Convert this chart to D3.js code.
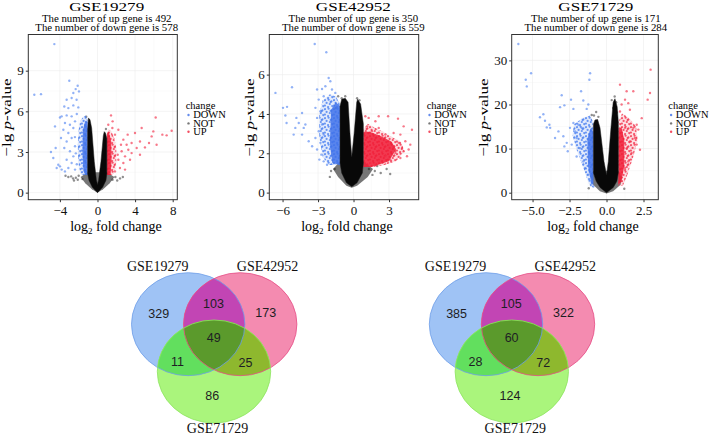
<!DOCTYPE html>
<html lang="en">
<head>
<meta charset="UTF-8">
<script src="https://d3js.org/d3.v7.min.js"></script>
<title>volcano + venn</title>
<style>
  body { margin: 0; background: #fff; }
</style>
</head>
<body>
<div id="chart"></div>
<script>
// ---- data ----
const datasets = ["GSE19279", "GSE42952", "GSE71729"];
const upCounts = [492, 350, 171];
const downCounts = [578, 559, 284];
const groups = ["DOWN", "NOT", "UP"];

const xTicks = [[-4, 0, 4, 8], [-6, -3, 0, 3], [-5, -2.5, 0, 2.5]];
const yTicks = [[0, 3, 6, 9], [0, 2, 4, 6], [0, 10, 20, 30]];
const xDomains = [[-7.36, 8.49], [-7.12, 5.51], [-6.41, 3.5]];
const yDomains = [[-0.52, 11.67], [-0.36, 8.04], [-1.59, 35.87]];

// dense areas of points (log2FC, -lg p)
const notArea = [
  [[-0.97, 5.5], [-1.05, 4.6], [-1.05, 1.4], [-0.9, 0.9], [-0.55, 0.4], [0, 0], [0.55, 0.4], [0.9, 0.9], [1.0, 1.4], [1.0, 4.0], [0.85, 4.4], [0.72, 4.5], [0.62, 4.2], [0.37, 2.3], [0.12, 0.95], [0, 0.6], [-0.12, 0.95], [-0.34, 2.3], [-0.62, 4.77], [-0.8, 5.4]],
  [[-1.0, 4.75], [-1.14, 4.4], [-1.14, 1.5], [-1.0, 1.0], [-0.6, 0.5], [-0.15, 0.3], [0.3, 0.5], [0.75, 1.0], [0.83, 1.5], [0.83, 3.5], [0.6, 4.5], [0.35, 4.75], [0.27, 4.6], [0.05, 3.0], [-0.15, 1.83], [-0.3, 3.0], [-0.46, 4.6], [-0.7, 4.8]],
  [[-0.78, 16.5], [-0.89, 15.5], [-0.89, 4.5], [-0.7, 2.6], [-0.44, 1.2], [0, 0], [0.46, 1.2], [0.7, 2.6], [0.8, 4.5], [0.8, 16], [0.72, 19.5], [0.57, 21.3], [0.45, 20.5], [0.3, 14.7], [0.12, 7.1], [0, 4.0], [-0.17, 7.1], [-0.44, 14.7], [-0.6, 16.6]]
];
// looser, greyer skirt of NOT points at low significance
const notFringe = [
  [[-1.05, 1.5], [-1.8, 1.15], [-1.3, 0.7], [-0.6, 0.25], [0, 0], [0.6, 0.25], [1.3, 0.7], [1.8, 1.15], [1.0, 1.5]],
  [[-1.14, 1.6], [-1.73, 1.2], [-1.3, 0.8], [-0.6, 0.35], [-0.15, 0.25], [0.3, 0.35], [1.2, 0.8], [1.65, 1.2], [0.83, 1.6]],
  [[-0.89, 5], [-1.05, 3.5], [-0.9, 1.8], [-0.45, 0.3], [0, -0.2], [0.45, 0.3], [0.95, 1.8], [1.05, 3.5], [0.8, 5]]
];
const downArea = [
  [[-1.05, 1.3], [-1.05, 5.3], [-1.2, 5.7], [-1.5, 5.6], [-1.85, 5.3], [-2.0, 4.6], [-2.1, 3.6], [-2.05, 2.4], [-1.9, 1.6], [-1.7, 1.3]],
  [[-1.14, 1.4], [-1.14, 4.5], [-1.5, 4.9], [-2.0, 5.0], [-2.6, 4.7], [-2.9, 4.0], [-2.9, 2.8], [-2.6, 1.8], [-2.1, 1.4]],
  [[-0.9, 1.3], [-0.9, 16], [-1.1, 17.5], [-1.6, 17], [-2.2, 15.5], [-2.3, 13], [-2.0, 9.5], [-1.6, 6], [-1.3, 3], [-1.1, 1.3]]
];
const upArea = [
  [[1.0, 1.3], [1.0, 4.3], [1.15, 4.7], [1.5, 4.5], [1.8, 4.0], [2.0, 3.3], [2.0, 2.3], [1.85, 1.6], [1.6, 1.3]],
  [[0.83, 1.3], [0.83, 3.2], [1.2, 3.5], [1.8, 3.3], [2.5, 3.1], [3.3, 2.8], [4.0, 2.6], [4.3, 2.1], [3.6, 1.6], [2.6, 1.4], [1.7, 1.3]],
  [[0.8, 1.5], [0.8, 16], [1.05, 18], [1.5, 17], [2.0, 15], [2.1, 12], [1.8, 8], [1.4, 4], [1.1, 1.5]]
];
// densest strip next to the fold-change cut-off
const downCore = [
  [[-1.05, 1.3], [-1.05, 5.2], [-1.3, 5.3], [-1.55, 4.6], [-1.6, 3.0], [-1.5, 1.6], [-1.3, 1.3]],
  [[-1.14, 1.4], [-1.14, 4.4], [-1.5, 4.6], [-1.9, 4.2], [-2.0, 2.5], [-1.8, 1.5]],
  [[-0.89, 1.5], [-0.89, 14], [-1.1, 14.5], [-1.3, 12], [-1.25, 6], [-1.05, 2.5]]
];
const upCore = [
  [[1.0, 1.3], [1.0, 4.3], [1.2, 4.5], [1.45, 3.8], [1.5, 2.5], [1.4, 1.3]],
  [[0.83, 1.3], [0.83, 3.1], [1.3, 3.1], [2.2, 2.9], [3.2, 2.6], [3.6, 2.2], [3.0, 1.6], [1.5, 1.3]],
  [[0.8, 2], [0.8, 14], [1.0, 15], [1.2, 12], [1.2, 6], [1.0, 2.5]]
];

// scattered points
const downPoints = [
  [[-4.59, 10.96], [-6.72, 7.22], [-6.01, 7.27], [-3.0, 8.26], [-2.11, 7.89], [-2.32, 7.64], [-1.97, 7.47], [-2.57, 7.35], [-3.28, 6.86], [-2.75, 6.98], [-2.22, 6.86], [-3.53, 6.36], [-3.1, 6.24], [-2.57, 6.44], [-2.04, 6.29], [-3.81, 5.63], [-3.28, 5.7], [-2.75, 5.63], [-3.99, 5.55], [-4.52, 4.89], [-3.46, 5.14], [-2.93, 5.01], [-2.39, 5.26], [-3.63, 4.64], [-3.1, 4.4], [-2.57, 4.77], [-3.88, 4.03], [-3.28, 3.78], [-2.75, 4.03], [-4.95, 3.0], [-4.45, 3.29], [-4.7, 2.56], [-3.53, 3.29], [-2.93, 3.05], [-2.39, 3.42], [-4.17, 2.06], [-4.34, 1.82], [-3.81, 1.7], [-3.99, 1.94], [-3.28, 2.43], [-2.75, 2.19], [-3.1, 1.82], [-2.39, 1.7], [-2.57, 2.68], [-3.46, 1.57], [-2.2, 5.8], [-2.4, 4.1], [-2.3, 2.9], [-2.2, 2.1]],
  [[-3.28, 7.56], [-2.3, 7.14], [-6.6, 5.07], [-5.2, 5.36], [-5.96, 4.31], [-5.62, 4.36], [-5.76, 3.92], [-5.66, 3.54], [-4.83, 3.8], [-4.35, 4.05], [-4.63, 3.54], [-4.92, 3.29], [-4.21, 3.29], [-5.06, 2.95], [-4.35, 2.95], [-3.79, 2.61], [-4.07, 3.46], [-3.5, 2.36], [-3.08, 2.19], [-3.22, 2.78], [-2.8, 2.53], [-3.08, 5.24], [-2.66, 5.27], [-2.1, 5.83], [-1.96, 5.66], [-2.38, 5.41], [-1.82, 5.24], [-1.54, 5.07], [-2.94, 4.73], [-2.52, 4.9], [-3.22, 4.31], [-2.8, 4.14], [-3.08, 3.8], [-2.66, 3.46], [-2.94, 3.12], [-2.52, 2.95], [-2.72, 1.93], [-2.52, 1.59], [-2.89, 1.68], [-2.24, 1.42]],
  [[-5.96, 33.7], [-5.1, 27.1], [-5.46, 25.6], [-5.39, 24.1], [-1.11, 27.1], [-1.16, 25.6], [-4.5, 17.1], [-4.27, 17.8], [-4.16, 16.3], [-4.04, 14.8], [-3.86, 15.4], [-3.81, 14.7], [-3.03, 22.1], [-2.85, 19.8], [-3.14, 19.4], [-2.4, 21.1], [-2.24, 19.0], [-1.72, 23.0], [-1.57, 20.9], [-1.34, 19.0], [-1.23, 20.0], [-2.92, 12.8], [-2.69, 11.3], [-2.62, 9.4], [-2.85, 10.5], [-2.35, 10.9], [-2.13, 13.9], [-1.9, 15.4], [-2.02, 12.4], [-1.68, 14.7], [-2.47, 14.7], [-2.24, 15.8], [-1.79, 10.1], [-2.02, 8.2], [-1.57, 7.1], [-1.45, 5.6], [-1.23, 4.1], [-1.0, 2.6], [-0.89, 1.4], [-3.48, 12.4], [-3.25, 13.9]]
];
const upPoints = [
  [[1.44, 5.7], [1.15, 5.01], [1.58, 4.77], [1.86, 4.28], [2.22, 4.64], [6.19, 5.55], [7.89, 4.57], [6.9, 4.28], [5.76, 4.15], [4.7, 4.77], [3.99, 4.4], [3.21, 4.28], [2.75, 3.91], [3.63, 3.66], [4.52, 3.78], [5.48, 3.66], [6.29, 3.54], [5.05, 3.34], [4.17, 3.29], [3.28, 3.17], [2.57, 3.05], [2.93, 2.68], [3.63, 2.92], [4.52, 2.8], [2.22, 2.43], [2.75, 2.19], [3.46, 2.43], [2.39, 1.82], [1.86, 1.57], [2.93, 1.7], [2.15, 2.8], [2.5, 3.54], [1.61, 5.26], [3.1, 3.54], [7.36, 4.23], [5.94, 4.52]],
  [[1.0, 3.88], [1.28, 3.8], [1.85, 3.63], [2.13, 3.88], [2.92, 3.88], [3.76, 3.76], [4.24, 3.37], [4.94, 3.2], [3.96, 2.95], [3.39, 3.03], [2.69, 2.95], [2.13, 3.29], [1.56, 3.12], [1.14, 3.37], [4.38, 2.61], [3.82, 2.53], [3.39, 2.36], [2.97, 2.44], [4.1, 2.27], [4.66, 2.19], [4.52, 1.85], [3.96, 1.76], [3.54, 2.02], [3.11, 1.68], [2.69, 1.85], [2.41, 2.1], [2.13, 1.59], [1.85, 1.42], [1.42, 1.51], [4.8, 2.44], [4.24, 2.1]],
  [[2.98, 27.9], [2.94, 22.6], [2.78, 21.1], [0.91, 24.5], [1.36, 23.0], [1.81, 23.0], [1.25, 21.1], [1.02, 20.0], [1.47, 20.3], [0.91, 18.4], [1.58, 18.8], [2.38, 16.9], [2.04, 15.4], [2.15, 14.3], [1.81, 14.7], [2.26, 9.75], [1.92, 12.4], [1.58, 11.6], [1.25, 14.7], [1.02, 13.2], [1.36, 10.1], [1.14, 8.6], [1.47, 7.1], [1.25, 5.6], [0.98, 4.1], [1.7, 9.0], [2.04, 10.9], [0.8, 7.1]]
];
const notPoints = [
  [[-3.4, 1.25], [-3.1, 1.15], [-2.8, 1.2], [-2.6, 1.05], [-2.3, 1.1], [-2.1, 0.95], [-2.5, 0.9], [2.1, 0.9], [2.4, 1.05], [2.7, 1.15], [1.9, 1.15], [-1.2, 5.6], [0.9, 4.7], [-2.0, 1.25], [-1.6, 1.0], [1.6, 0.95]],
  [[-1.3, 4.9], [-1.0, 4.8], [-0.7, 4.9], [-1.5, 4.3], [0.3, 4.8], [0.5, 4.7], [1.3, 1.2], [1.8, 1.1], [2.3, 1.0], [2.8, 1.2], [3.1, 0.95], [1.6, 0.9], [-1.9, 1.1], [-2.0, 0.8], [-1.6, 1.2], [2.0, 1.35]],
  [[-0.85, 17.5], [-0.7, 18.3], [-0.55, 17.2], [-1.0, 17.6], [0.55, 21.8], [0.65, 20.5], [0.45, 19.2], [0.7, 18.2], [0.62, 17.0], [0.35, 21.0], [-1.2, 1.0], [1.2, 0.9]]
];

// venn counts: A only, AB, B only, ABC, AC, BC, C only
const vennUp = [329, 103, 173, 49, 11, 25, 86];
const vennDown = [385, 105, 322, 60, 28, 72, 124];

// ---- layout ----
const width = 709, height = 436;
const panelX = [[28.3, 177.3], [269.3, 418.7], [511.7, 658.3]];
const panelY = [34.5, 199.7];
const titleX = [106.7, 353.3, 595.8];
const xTitleX = [116, 347, 593];
const yTitleX = [11, 254, 488];
const legendX = [185.7, 426.7, 668.3];
const colors = { DOWN: "#3d6fe8", NOT: "#000", UP: "#f0203a" };

const svg = d3.select("#chart").append("svg")
  .attr("width", width).attr("height", height)
  .attr("font-family", "Liberation Serif, Times New Roman, serif");

// speckled fills for the dense point clouds
const defs = svg.append("defs");
function speckle(id, col, bg) {
  const p = defs.append("pattern").attr("id", id).attr("patternUnits", "userSpaceOnUse")
    .attr("width", 9).attr("height", 9);
  p.append("rect").attr("width", 9).attr("height", 9).attr("fill", col).attr("fill-opacity", bg);
  [[1, 1.2], [4.6, 0.7], [7.4, 2.4], [2.6, 3.9], [5.8, 5.0], [0.9, 6.6], [8.2, 7.1], [4.1, 8.0], [6.6, 3.1]].forEach(d => {
    p.append("circle").attr("cx", d[0]).attr("cy", d[1]).attr("r", 1.1)
      .attr("fill", col).attr("fill-opacity", 0.8);
  });
}
speckle("spDown", "#4a7ff0", 0.16);
speckle("spUp", "#f2304a", 0.16);

datasets.forEach((name, i) => {
  const x = d3.scaleLinear().domain(xDomains[i]).range(panelX[i]);
  const y = d3.scaleLinear().domain(yDomains[i]).range([panelY[1], panelY[0]]);
  const g = svg.append("g");

  // grid
  const minorX = xTicks[i].slice(0, -1).map((t, k) => (t + xTicks[i][k + 1]) / 2);
  const minorY = yTicks[i].slice(0, -1).map((t, k) => (t + yTicks[i][k + 1]) / 2);
  g.selectAll(".mx").data(minorX).join("line")
    .attr("x1", d => x(d)).attr("x2", d => x(d))
    .attr("y1", panelY[0]).attr("y2", panelY[1])
    .attr("stroke", "#f5f5f5").attr("stroke-width", 0.5);
  g.selectAll(".my").data(minorY).join("line")
    .attr("y1", d => y(d)).attr("y2", d => y(d))
    .attr("x1", panelX[i][0]).attr("x2", panelX[i][1])
    .attr("stroke", "#f5f5f5").attr("stroke-width", 0.5);
  g.selectAll(".gx").data(xTicks[i]).join("line")
    .attr("x1", d => x(d)).attr("x2", d => x(d))
    .attr("y1", panelY[0]).attr("y2", panelY[1])
    .attr("stroke", "#ececec").attr("stroke-width", 0.6);
  g.selectAll(".gy").data(yTicks[i]).join("line")
    .attr("y1", d => y(d)).attr("y2", d => y(d))
    .attr("x1", panelX[i][0]).attr("x2", panelX[i][1])
    .attr("stroke", "#ececec").attr("stroke-width", 0.6);

  const line = d3.line().x(d => x(d[0])).y(d => y(d[1])).curve(d3.curveLinearClosed);
  const dot = (data, col, op) => g.append("g").selectAll("circle").data(data).join("circle")
    .attr("cx", d => x(d[0])).attr("cy", d => y(d[1])).attr("r", 1.2)
    .attr("fill", col).attr("fill-opacity", op);

  dot(notPoints[i], "#333", 0.55);
  g.append("path").attr("d", line(notFringe[i])).attr("fill", "#1a1a1a").attr("fill-opacity", 0.6);
  g.append("path").attr("d", line(downArea[i])).attr("fill", "url(#spDown)");
  g.append("path").attr("d", line(upArea[i])).attr("fill", "url(#spUp)");
  g.append("path").attr("d", line(downCore[i])).attr("fill", "#3f72ea").attr("fill-opacity", 0.85);
  g.append("path").attr("d", line(upCore[i])).attr("fill", "#f01c36").attr("fill-opacity", 0.85);
  dot(downPoints[i], "#4a7ff0", 0.6);
  dot(upPoints[i], "#f2304a", 0.65);
  g.append("path").attr("d", line(notArea[i])).attr("fill", "#080808")
    .attr("stroke", "#1a1a1a").attr("stroke-width", 0.5).attr("stroke-linejoin", "round");

  // frame
  g.append("rect").attr("x", panelX[i][0]).attr("y", panelY[0])
    .attr("width", panelX[i][1] - panelX[i][0]).attr("height", panelY[1] - panelY[0])
    .attr("fill", "none").attr("stroke", "#333").attr("stroke-width", 1);

  const fmt = i === 2 ? d3.format(".1f") : d3.format("d");
  const ax = g.append("g").attr("transform", `translate(0,${panelY[1]})`)
    .call(d3.axisBottom(x).tickValues(xTicks[i]).tickFormat(fmt).tickSize(2.5).tickPadding(3.5));
  const ay = g.append("g").attr("transform", `translate(${panelX[i][0]},0)`)
    .call(d3.axisLeft(y).tickValues(yTicks[i]).tickFormat(d3.format("d")).tickSize(2.5).tickPadding(2));
  [ax, ay].forEach(a => {
    a.attr("font-family", null);
    a.select(".domain").remove();
    a.selectAll("line").attr("stroke", "#333");
    a.selectAll("text").attr("font-size", 13).attr("fill", "#111");
  });

  // titles
  g.append("text").attr("x", titleX[i]).attr("y", 11.2).attr("text-anchor", "middle")
    .attr("font-size", 13).attr("textLength", 75).attr("lengthAdjust", "spacingAndGlyphs").text(name);
  g.append("text").attr("x", titleX[i]).attr("y", 22).attr("text-anchor", "middle")
    .attr("font-size", 10.8).text(`The number of up gene is ${upCounts[i]}`);
  g.append("text").attr("x", titleX[i]).attr("y", 30.8).attr("text-anchor", "middle")
    .attr("font-size", 10.8).text(`The number of down gene is ${downCounts[i]}`);

  const xt = g.append("text").attr("x", xTitleX[i]).attr("y", 231).attr("text-anchor", "middle")
    .attr("font-size", 14);
  xt.append("tspan").text("log");
  xt.append("tspan").attr("font-size", 9).attr("dy", 3).text("2");
  xt.append("tspan").attr("dy", -3).text(" fold change");

  const yt = g.append("text").attr("transform", `translate(${yTitleX[i]},117.5) rotate(-90)`)
    .attr("text-anchor", "middle").attr("font-size", 13.5)
    .attr("textLength", 78).attr("lengthAdjust", "spacingAndGlyphs");
  yt.append("tspan").text("\u2212lg ");
  yt.append("tspan").attr("font-style", "italic").text("p");
  yt.append("tspan").text("-value");

  // legend
  const lg = g.append("g").attr("transform", `translate(${legendX[i]},0)`);
  lg.append("text").attr("x", 0).attr("y", 108.5).attr("font-size", 10.5).text("change");
  groups.forEach((grp, k) => {
    lg.append("circle").attr("cx", 2.8).attr("cy", 115 + k * 8.4).attr("r", 1.2)
      .attr("fill", grp === "NOT" ? "#555" : colors[grp]).attr("fill-opacity", 0.8);
    lg.append("text").attr("x", 7.5).attr("y", 118.4 + k * 8.4).attr("font-size", 10.5).text(grp);
  });
});

// ---- venn diagrams ----
const vennSets = ["GSE19279", "GSE42952", "GSE71729"];
const vennCenters = [188.2, 486];
const vennCY = 324.2, rx = 56.7, ry = 51.5;
const setOffset = [[0, 0], [52, 0], [25.8, 47.3]];
const fills = ["#9fc3f5", "#f48bb0", "#aaf57c"];
const strokes = ["#6f9fe8", "#e64d86", "#8fe462"];
const regionFill = { AB: "#c245b4", AC: "#62df5e", BC: "#8eb82e", ABC: "#5b9a2c" };
const regionOffset = [[-29.4, -11], [25.3, -21.2], [77.5, -11.6], [25.6, 13.6], [-10.6, 37.4], [57.2, 38.6], [24, 71.5]];
const setLabelPos = [[-30.5, -53], [79.3, -53], [29.3, 108.3]];

[vennUp, vennDown].forEach((counts, v) => {
  const cx0 = vennCenters[v];
  const g = svg.append("g");
  const c = setOffset.map(o => [cx0 + o[0], vennCY + o[1]]);
  const vd = g.append("defs");
  ["A", "B"].forEach((id, k) => {
    vd.append("clipPath").attr("id", `clip${id}${v}`)
      .append("ellipse").attr("cx", c[k][0]).attr("cy", c[k][1]).attr("rx", rx).attr("ry", ry);
  });
  const ell = (parent, k, fill) => parent.append("ellipse")
    .attr("cx", c[k][0]).attr("cy", c[k][1]).attr("rx", rx).attr("ry", ry).attr("fill", fill);
  ell(g, 0, fills[0]);
  ell(g, 1, fills[1]);
  ell(g, 2, fills[2]);
  ell(g.append("g").attr("clip-path", `url(#clipA${v})`), 1, regionFill.AB);
  ell(g.append("g").attr("clip-path", `url(#clipA${v})`), 2, regionFill.AC);
  ell(g.append("g").attr("clip-path", `url(#clipB${v})`), 2, regionFill.BC);
  ell(g.append("g").attr("clip-path", `url(#clipA${v})`).append("g").attr("clip-path", `url(#clipB${v})`), 2, regionFill.ABC);
  [0, 1, 2].forEach(k => ell(g, k, "none").attr("stroke", strokes[k]).attr("stroke-opacity", 0.8).attr("stroke-width", 1));

  counts.forEach((n, k) => {
    g.append("text").attr("x", cx0 + regionOffset[k][0]).attr("y", vennCY + regionOffset[k][1])
      .attr("dy", "0.36em").attr("text-anchor", "middle")
      .attr("font-family", "Liberation Sans, Arial, sans-serif").attr("font-size", 12.5)
      .attr("fill", "#1e1e24").text(n);
  });
  vennSets.forEach((s, k) => {
    g.append("text").attr("x", cx0 + setLabelPos[k][0]).attr("y", vennCY + setLabelPos[k][1])
      .attr("text-anchor", "middle").attr("font-size", 14).attr("fill", "#111").text(s);
  });
});
</script>
</body>
</html>
